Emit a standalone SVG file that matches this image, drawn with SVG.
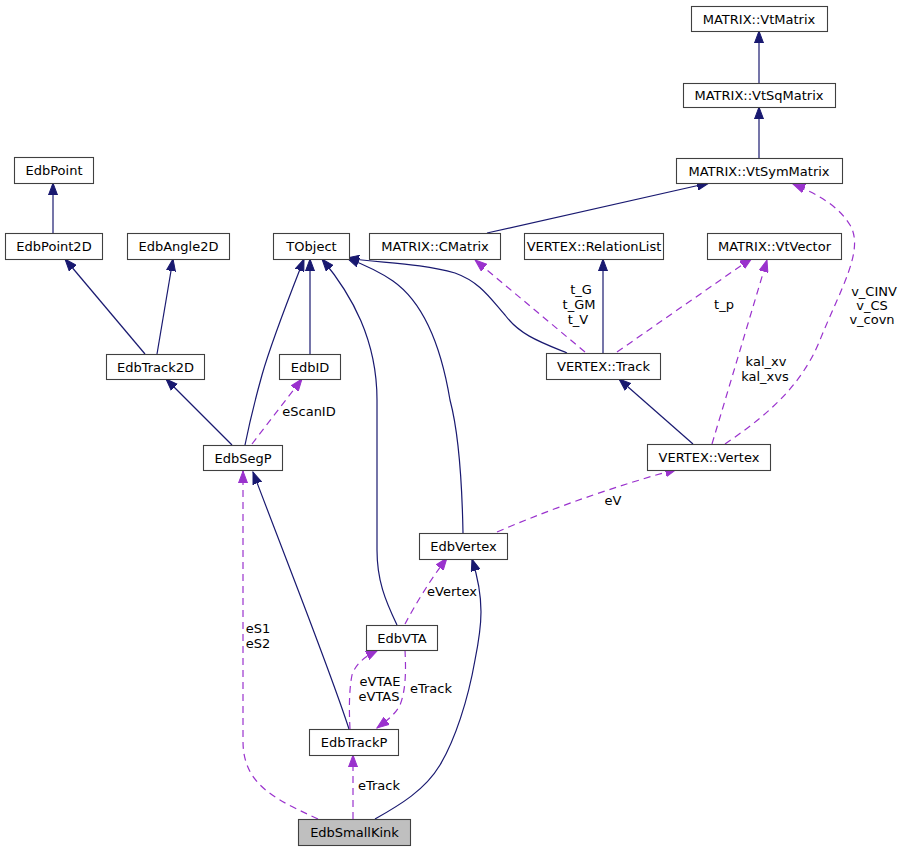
<svg xmlns="http://www.w3.org/2000/svg" width="905" height="851" viewBox="0 0 905 851">
<defs>
<style>
.node rect{fill:#ffffff;stroke:#404040;stroke-width:1.1}
.node.main rect{fill:#bfbfbf}
text{font-family:"DejaVu Sans","Liberation Sans",sans-serif;font-size:13px;fill:#000}
.node text{text-anchor:middle}
.lbl{text-anchor:middle}
.inh{fill:none;stroke:#191970;stroke-width:1.2;marker-end:url(#ab)}
.use{fill:none;stroke:#9a32cd;stroke-width:1.2;stroke-dasharray:7,5;marker-end:url(#ap)}
</style>
<marker id="ab" markerUnits="userSpaceOnUse" markerWidth="13" markerHeight="10" refX="12" refY="5" orient="auto" viewBox="0 0 13 10"><path d="M0,0.5 L12,5 L0,9.5 z" fill="#191970" stroke="#191970" stroke-dasharray="none"/></marker>
<marker id="ap" markerUnits="userSpaceOnUse" markerWidth="13" markerHeight="10" refX="12" refY="5" orient="auto" viewBox="0 0 13 10"><path d="M0,0.5 L12,5 L0,9.5 z" fill="#9a32cd" stroke="#9a32cd" stroke-dasharray="none"/></marker>
</defs>
<rect width="905" height="851" fill="#ffffff"/>
<g id="edges">
<path class="inh" d="M759,83 L759,31"/>
<path class="inh" d="M759,158 L759,107"/>
<path class="inh" d="M487,233 L709,183"/>
<path class="inh" d="M53,233 L53,183"/>
<path class="inh" d="M145,354 L65,259"/>
<path class="inh" d="M157,354 L173,259"/>
<path class="inh" d="M232,445 L166,379"/>
<path class="inh" d="M245,445 C250,420 255,400 262,375 C272,340 288,300 304,259"/>
<path class="inh" d="M310,354 L310,259"/>
<path class="inh" d="M397,625 C385,600 377,580 377,550 L377,400 C377,340 352,295 322,259"/>
<path class="inh" d="M463,533 C462,480 458,430 450,400 C440,340 420,300 393,281 C380,272 365,265 347,258"/>
<path class="inh" d="M567,353 C540,342 520,335 505,315 C490,298 480,282 455,273 C420,263 380,263 347,258"/>
<path class="inh" d="M349,729 C330,670 290,570 253,472"/>
<path class="inh" d="M375,819 C400,805 425,790 440,765 C455,740 468,700 475,660 C482,625 485,600 472,559"/>
<path class="inh" d="M693,444 L619,379"/>
<path class="inh" d="M603,353 L603,259"/>
<path class="use" d="M252,444 L302,379"/>
<path class="use" d="M318,819 C290,806 265,795 252,775 C244,762 243,750 243,740 L243,471"/>
<path class="use" d="M405,650 C406,670 406,690 400,705 C395,715 385,722 377,728"/>
<path class="use" d="M350,729 C349,710 349,690 352,675 C356,663 366,656 378,650"/>
<path class="use" d="M405,624 C415,605 430,580 447,558"/>
<path class="use" d="M353,819 L353,755"/>
<path class="use" d="M497,532 C560,505 620,485 677,469"/>
<path class="use" d="M712,444 L767,260"/>
<path class="use" d="M725,444 C760,420 800,390 820,340 C840,290 865,250 850,225 C838,205 815,193 793,184"/>
<path class="use" d="M585,352 L475,260"/>
<path class="use" d="M617,352 L752,258"/>
<text class="lbl" x="309" y="416">eScanID</text>
<text class="lbl" x="258" y="633">eS1</text>
<text class="lbl" x="258" y="648">eS2</text>
<text class="lbl" x="380" y="686">eVTAE</text>
<text class="lbl" x="379" y="701">eVTAS</text>
<text class="lbl" x="431" y="693">eTrack</text>
<text class="lbl" x="379" y="790">eTrack</text>
<text class="lbl" x="452" y="596">eVertex</text>
<text class="lbl" x="613" y="505">eV</text>
<text class="lbl" x="766" y="366">kal_xv</text>
<text class="lbl" x="765" y="381">kal_xvs</text>
<text class="lbl" x="874" y="296">v_CINV</text>
<text class="lbl" x="872" y="310">v_CS</text>
<text class="lbl" x="872" y="324">v_covn</text>
<text class="lbl" x="581" y="294">t_G</text>
<text class="lbl" x="579" y="309">t_GM</text>
<text class="lbl" x="578" y="324">t_V</text>
<text class="lbl" x="724" y="309">t_p</text>
</g>
<g id="VtMatrix" class="node"><rect x="691.5" y="6.5" width="136" height="25"/><text x="759" y="23.5">MATRIX::VtMatrix</text></g>
<g id="VtSqMatrix" class="node"><rect x="683.5" y="83.5" width="152" height="24"/><text x="759" y="100">MATRIX::VtSqMatrix</text></g>
<g id="VtSymMatrix" class="node"><rect x="676.5" y="158.5" width="166" height="25"/><text x="759" y="175.5">MATRIX::VtSymMatrix</text></g>
<g id="EdbPoint" class="node"><rect x="14.5" y="157.5" width="79" height="26"/><text x="54" y="175">EdbPoint</text></g>
<g id="EdbPoint2D" class="node"><rect x="5.5" y="233.5" width="97" height="26"/><text x="54" y="251">EdbPoint2D</text></g>
<g id="EdbAngle2D" class="node"><rect x="127.5" y="233.5" width="102" height="26"/><text x="178.5" y="251">EdbAngle2D</text></g>
<g id="TObject" class="node"><rect x="273.5" y="233.5" width="76" height="26"/><text x="311.5" y="251">TObject</text></g>
<g id="CMatrix" class="node"><rect x="369.5" y="233.5" width="131" height="26"/><text x="435" y="251">MATRIX::CMatrix</text></g>
<g id="RelationList" class="node"><rect x="524.5" y="233.5" width="139" height="26"/><text x="594" y="251">VERTEX::RelationList</text></g>
<g id="VtVector" class="node"><rect x="707.5" y="233.5" width="134" height="26"/><text x="774.5" y="251">MATRIX::VtVector</text></g>
<g id="EdbTrack2D" class="node"><rect x="106.5" y="354.5" width="98" height="25"/><text x="155.5" y="371.5">EdbTrack2D</text></g>
<g id="EdbID" class="node"><rect x="279.5" y="354.5" width="61" height="25"/><text x="310" y="371.5">EdbID</text></g>
<g id="Track" class="node"><rect x="546.5" y="353.5" width="114" height="26"/><text x="603.5" y="371">VERTEX::Track</text></g>
<g id="Vertex" class="node"><rect x="647.5" y="444.5" width="123" height="26"/><text x="709" y="462">VERTEX::Vertex</text></g>
<g id="EdbSegP" class="node"><rect x="203.5" y="445.5" width="79" height="25"/><text x="243" y="462.5">EdbSegP</text></g>
<g id="EdbVertex" class="node"><rect x="419.5" y="533.5" width="88" height="26"/><text x="463.5" y="551">EdbVertex</text></g>
<g id="EdbVTA" class="node"><rect x="366.5" y="625.5" width="71" height="25"/><text x="402" y="642.5">EdbVTA</text></g>
<g id="EdbTrackP" class="node"><rect x="309.5" y="729.5" width="89" height="26"/><text x="354" y="747">EdbTrackP</text></g>
<g id="EdbSmallKink" class="node main"><rect x="298.5" y="819.5" width="112" height="26"/><text x="354.5" y="837">EdbSmallKink</text></g>
</svg>
